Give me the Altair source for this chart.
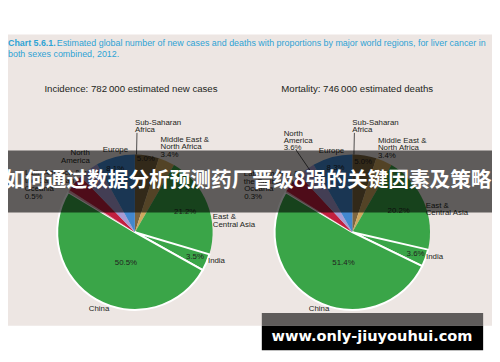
import math
import altair as alt
import pandas as pd

# ---------------- data ----------------
regions = [
    "Sub-Saharan Africa",
    "Middle East & North Africa",
    "East & Central Asia",
    "India",
    "China",
    "Oceania",
    "Latin America & the Caribbean",
    "North America",
    "Europe",
]
incidence_pct = [5.0, 3.4, 21.2, 3.5, 50.5, 0.5, 3.6, 4.2, 8.1]
mortality_pct = [5.0, 3.4, 20.2, 3.6, 51.4, 0.3, 4.2, 3.6, 8.3]

title_bold = "Chart 5.6.1."
title_rest = ("Estimated global number of new cases and deaths with proportions by "
              "major world regions, for liver cancer in")
title_line2 = "both sexes combined, 2012."
subtitle_left = "Incidence: 782\u2009000 estimated new cases"
subtitle_right = "Mortality: 746\u2009000 estimated deaths"
banner_text = "如何通过数据分析预测药厂晋级8强的关键因素及策略"
watermark_text = "www.only-jiuyouhui.com"

# ---------------- styling ----------------
region_colors = ["#7d6640", "#cfa95f", "#3aa548", "#3aa548", "#3aa548",
                 "#e8a0b0", "#c2203f", "#a79bd3", "#4287cf"]
W, H = 492, 354
R = 79
LH = 7.6
PANEL = "#ede6e3"
TXT = "#231f20"
BLUE = "#2ea3d5"
FONT = "Liberation Sans"

one = pd.DataFrame({"a": [0]})


def txt(text, x, y, size, color=TXT, weight="normal", align="left", font=FONT):
    return alt.Chart(one).mark_text(
        text=text, align=align, baseline="middle", fontSize=size,
        fontWeight=weight, color=color, font=font,
    ).encode(x=alt.value(x), y=alt.value(y))


def rect(x, x2, y, y2, color, opacity=1.0):
    return alt.Chart(one).mark_rect(color=color, opacity=opacity).encode(
        x=alt.value(x), x2=alt.value(x2), y=alt.value(y), y2=alt.value(y2))


def pie(values, cx, cy, label_spec, leaders):
    df = pd.DataFrame({"region": regions, "pct": values, "idx": list(range(len(regions)))})
    arcs = alt.Chart(df).mark_arc(radius=R, stroke="white").encode(
        theta=alt.Theta("pct:Q", stack=True),
        color=alt.Color("region:N", scale=alt.Scale(domain=regions, range=region_colors),
                        legend=None),
        order=alt.Order("idx:Q", sort="ascending"),
        strokeWidth=alt.condition("datum.region == 'China' || datum.region == 'India'",
                                  alt.value(2), alt.value(0)),
        x=alt.value(cx), y=alt.value(cy),
    )
    total = sum(values)
    start = {}
    mid = {}
    c = 0.0
    for reg, v in zip(regions, values):
        start[reg] = c / total * 360
        mid[reg] = (c + v / 2) / total * 360
        c += v
    pct = {reg: f"{v:.1f}%" for reg, v in zip(regions, values)}

    layers = [arcs]
    groups = {}
    for reg, text, align, anchor, off, rad in label_spec:
        base = start[reg] if anchor == "start" else mid[reg]
        t = text.replace("{p}", pct[reg])
        n = t.count("\n") + 1
        groups.setdefault((align, n), []).append(
            {"text": t, "ang": math.radians(base + off), "rad": rad})
    for (align, n), rows in groups.items():
        layers.append(
            alt.Chart(pd.DataFrame(rows)).mark_text(
                align=align, baseline="middle", lineBreak="\n", lineHeight=LH,
                dy=-(n - 1) * LH / 2,
                fontSize=8, font=FONT, color=TXT,
            ).encode(
                theta=alt.Theta("ang:Q", scale=None),
                radius=alt.Radius("rad:Q", scale=None),
                text="text:N",
                x=alt.value(cx), y=alt.value(cy),
            )
        )
    for reg, anchor, off, r1, r2 in leaders:
        base = start[reg] if anchor == "start" else mid[reg]
        a = math.radians(base + off)
        layers.append(
            alt.Chart(one).mark_rule(color="#222222", strokeWidth=0.8).encode(
                x=alt.value(cx + r1 * math.sin(a)), y=alt.value(cy - r1 * math.cos(a)),
                x2=alt.value(cx + r2 * math.sin(a)), y2=alt.value(cy - r2 * math.cos(a)),
            )
        )
    return layers


left_spec = [
    ("Sub-Saharan Africa", "Sub-Saharan\nAfrica", "left", "start", 0, 107.5),
    ("Sub-Saharan Africa", "{p}", "center", "mid", -0.5, 75),
    ("Middle East & North Africa", "Middle East &\nNorth Africa\n{p}", "left", "mid", -7.3, 90),
    ("East & Central Asia", "{p}", "center", "mid", 0, 55),
    ("East & Central Asia", "East &\nCentral Asia", "left", "mid", 13.3, 80),
    ("India", "{p}", "center", "mid", -0.6, 66),
    ("India", "India", "left", "mid", -1, 80),
    ("China", "{p}", "center", "mid", -14, 33),
    ("China", "China", "center", "mid", -5, 86),
    ("Oceania", "Oceania\n{p}", "left", "mid", -12.2, 119),
    ("Latin America & the Caribbean", "Latin America &\nthe Caribbean", "left", "mid", -12.6, 125),
    ("North America", "North\nAmerica", "right", "mid", 5.7, 89),
    ("North America", "{p}", "center", "mid", 0.4, 74),
    ("Europe", "Europe", "center", "mid", 1.2, 86),
    ("Europe", "{p}", "center", "mid", -2.8, 67),
]
left_leaders = [("Sub-Saharan Africa", "start", 1.2, 79, 101)]

right_spec = [
    ("Sub-Saharan Africa", "Sub-Saharan\nAfrica", "left", "start", 0, 107.5),
    ("Sub-Saharan Africa", "{p}", "center", "mid", -0.2, 72),
    ("Middle East & North Africa", "Middle East &\nNorth Africa\n{p}", "left", "mid", -7.1, 89),
    ("East & Central Asia", "{p}", "center", "mid", -1.6, 52),
    ("East & Central Asia", "East &\nCentral Asia", "left", "mid", 6.4, 78),
    ("India", "{p}", "center", "mid", -0.4, 68),
    ("India", "India", "left", "mid", -1, 79),
    ("China", "{p}", "center", "mid", -12.7, 33),
    ("China", "China", "center", "mid", -5, 85),
    ("Oceania", "Oceania\n{p}", "left", "mid", -11.5, 117),
    ("Latin America & the Caribbean", "Latin America &\nthe Caribbean", "left", "mid", -13, 123.4),
    ("North America", "North\nAmerica\n{p}", "left", "mid", -0.6, 116),
    ("Europe", "Europe", "center", "mid", 0.5, 85),
    ("Europe", "{p}", "center", "mid", 0.2, 67),
]
right_leaders = [("Sub-Saharan Africa", "start", 1.2, 79, 101),
                 ("North America", "mid", 2, 76, 102)]

layers = [
    rect(0, W, 24, 320, PANEL),
    txt(title_bold, 0, 33, 9, BLUE, "bold"),
    txt(title_rest, 49.5, 33, 9.05, BLUE),
    txt(title_line2, 0, 44, 9.05, BLUE),
    txt(subtitle_left, 125, 79, 9.8, align="center"),
    txt(subtitle_right, 355, 79, 9.8, align="center"),
]
layers += pie(incidence_pct, 129, 225, left_spec, left_leaders)
layers += pie(mortality_pct, 350, 225, right_spec, right_leaders)
layers += [
    rect(0, W, 142, 205, "#000000", 0.6),
    txt(banner_text, 244, 173, 21, "#ffffff", "bold", "center", "Noto Sans CJK SC"),
    rect(258, 483, 307, 320, "#000000", 0.6),
    rect(258, 483, 320, 345, "#000000"),
    txt(watermark_text, 370, 332, 14.8, "#ffffff", "bold", "center", "DejaVu Sans"),
]

chart = alt.layer(*layers).resolve_scale(theta="independent").properties(
    width=W, height=H, padding=0, autosize="none", background="white"
).configure_view(stroke=None)

chart.save("out.html", embed_options={"renderer": "svg", "actions": False})
